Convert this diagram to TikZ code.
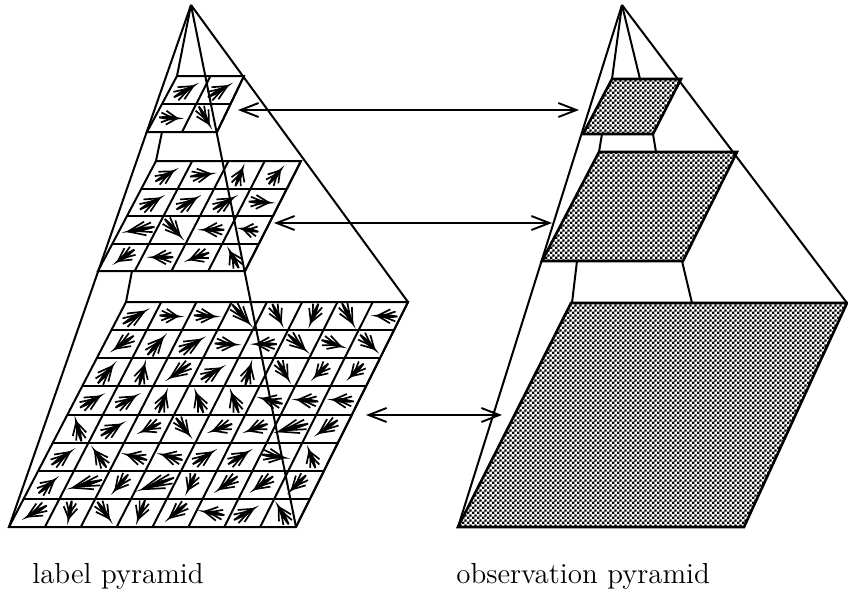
\documentclass[tikz,border=0pt]{standalone}
\usepackage{tikz}
\usetikzlibrary{arrows.meta,calc,patterns}

% Rasterung der Beobachtungsebenen
\pgfdeclarepatternformonly{stipple}{\pgfqpoint{0pt}{0pt}}{\pgfqpoint{2.6pt}{2.6pt}}{\pgfqpoint{2.6pt}{2.6pt}}{%
  \pgfpathrectangle{\pgfqpoint{0pt}{0pt}}{\pgfqpoint{1.4pt}{1.4pt}}%
  \pgfpathrectangle{\pgfqpoint{1.3pt}{1.3pt}}{\pgfqpoint{1.4pt}{1.4pt}}%
  \pgfusepath{fill}}

% Gitter einer Ebene: Ecken a,b,c,d und Zellenzahl
\newcommand{\levelgrid}[5]{%
  \draw[gridline] (#1) -- (#2) -- (#3) -- (#4) -- cycle;
  \foreach \i in {1,...,#5} {
    \draw[gridline] ($(#1)!\i/#5!(#4)$) -- ($(#2)!\i/#5!(#3)$);
    \draw[gridline] ($(#1)!\i/#5!(#2)$) -- ($(#4)!\i/#5!(#3)$);
  }
}

% Pfeil mit Widerhaken: Mitte, Winkel, Laenge
\newcommand{\labelarrow}[3]{%
  \begin{scope}[shift={#1},rotate=#2,x=0.56pt,y=-0.56pt]
    \fill (#3/2,0) -- (#3/2-0.55*#3,2.1) -- (-#3/2,0.8) -- (-#3/2,-0.8) -- (#3/2-0.55*#3,-2.1) -- cycle;
    \draw[barb] (#3/2-6,0) -- (#3/2-0.72*#3,6.2);
    \draw[barb] (#3/2-6,0) -- (#3/2-0.72*#3,-6.2);
    \draw[barb] (#3/2-10,0) -- (#3/2-0.92*#3,4.4);
    \draw[barb] (#3/2-10,0) -- (#3/2-0.92*#3,-4.4);
  \end{scope}
}

\begin{document}
\begin{tikzpicture}[x=0.5pt,y=-0.5pt,
    edge/.style={black, line width=1pt},
    gridline/.style={black, line width=1pt},
    barb/.style={black, line width=0.85pt},
    shaded/.style={pattern=stipple, draw=black, line width=1.3pt},
    link/.style={black, line width=0.95pt, {Straight Barb[length=9pt,width=7pt]}-{Straight Barb[length=9pt,width=7pt]}},
    caption/.style={font=\fontsize{14.5}{16}\selectfont, anchor=base west, inner sep=0pt}
  ]
  \useasboundingbox (0,0) rectangle (848,591);

  % Linke Pyramide
  \coordinate (apexL) at (191,5);
  \coordinate (a1) at (177,76);  \coordinate (a2) at (244,76);
  \coordinate (a3) at (217,132); \coordinate (a4) at (147,132);
  \coordinate (b1) at (156,161); \coordinate (b2) at (301,161);
  \coordinate (b3) at (245,271); \coordinate (b4) at (98,271);
  \coordinate (c1) at (126,302); \coordinate (c2) at (408,302);
  \coordinate (c3) at (296,527); \coordinate (c4) at (9,527);

  % Gitter
  \levelgrid{a1}{a2}{a3}{a4}{2}
  \levelgrid{b1}{b2}{b3}{b4}{4}
  \levelgrid{c1}{c2}{c3}{c4}{8}

  % Kanten
  \draw[edge] (apexL) -- (c4);
  \draw[edge] (apexL) -- (c2);
  \draw[edge] (apexL) -- (c3);
  \draw[edge] (apexL) -- (a1);
  \draw[edge] (162,132) -- (156,161);
  \draw[edge] (132,271) -- (126,302);

  % Pfeile der Ebene 1
  \foreach \a/\l [count=\k from 0] in {
      30/28,-3/22,-3/24,-48/28,-65/24,-112/24,-62/26,178/24,
      215/26,48/26,30/28,-3/24,180/24,-42/26,-18/24,-45/24,
      50/26,75/24,215/28,30/26,75/24,-60/24,225/22,225/22,
      30/26,30/26,70/24,110/24,110/24,165/24,175/24,175/24,
      105/24,30/26,205/24,-52/24,200/24,200/24,195/33,215/26,
      35/26,125/24,165/24,165/24,32/26,32/26,-8/26,110/22,
      40/24,195/33,230/24,200/36,245/22,215/26,215/26,225/24,
      210/26,260/22,-55/24,250/24,220/26,170/24,30/26,120/24} {
    \pgfmathtruncatemacro{\row}{int(\k/8)}
    \pgfmathtruncatemacro{\col}{\k-8*\row}
    \pgfmathsetmacro{\cx}{126+(\col+0.5)*35.4-(\row+0.5)*14.6}
    \pgfmathsetmacro{\cy}{302+(\row+0.5)*28.1}
    \labelarrow{(\cx,\cy)}{\a}{\l}
  }

  % Pfeile der Ebene 2
  \foreach \a/\l [count=\k from 0] in {
      30/24,8/24,68/22,50/22,
      30/26,30/26,30/26,-3/24,
      190/30,-48/26,180/24,170/20,
      215/24,180/24,200/24,118/22} {
    \pgfmathtruncatemacro{\row}{int(\k/4)}
    \pgfmathtruncatemacro{\col}{\k-4*\row}
    \pgfmathsetmacro{\cx}{156+(\col+0.5)*36.5-(\row+0.5)*14.5}
    \pgfmathsetmacro{\cy}{161+(\row+0.5)*27.5}
    \labelarrow{(\cx,\cy)}{\a}{\l}
  }

  % Pfeile der Ebene 3
  \foreach \a/\l [count=\k from 0] in {30/26,30/26,-3/22,-60/24} {
    \pgfmathtruncatemacro{\row}{int(\k/2)}
    \pgfmathtruncatemacro{\col}{\k-2*\row}
    \pgfmathsetmacro{\cx}{177+(\col+0.5)*34-(\row+0.5)*15}
    \pgfmathsetmacro{\cy}{76+(\row+0.5)*28}
    \labelarrow{(\cx,\cy)}{\a}{\l}
  }

  % Rechte Pyramide
  \coordinate (apexR) at (622,5);
  \coordinate (d1) at (612,79);  \coordinate (d2) at (681,79);
  \coordinate (d3) at (653,134); \coordinate (d4) at (583,134);
  \coordinate (e1) at (599,152); \coordinate (e2) at (737,152);
  \coordinate (e3) at (683,261); \coordinate (e4) at (542,261);
  \coordinate (f1) at (571,303); \coordinate (f2) at (847,303);
  \coordinate (f3) at (744,527); \coordinate (f4) at (458,527);

  \draw[shaded] (d1) -- (d2) -- (d3) -- (d4) -- cycle;
  \draw[shaded] (e1) -- (e2) -- (e3) -- (e4) -- cycle;
  \draw[shaded] (f1) -- (f2) -- (f3) -- (f4) -- cycle;

  % Kanten
  \draw[edge] (apexR) -- (f4);
  \draw[edge] (apexR) -- (f2);
  \draw[edge] (apexR) -- (d1);
  \draw[edge] (apexR) -- (640,79);
  \draw[edge] (602,134) -- (599,152);
  \draw[edge] (653,134) -- (656,152);
  \draw[edge] (577,261) -- (572,303);
  \draw[edge] (682,261) -- (692,303);

  % Verbindungen
  \coordinate (top1) at (238,110);  \coordinate (top2) at (579,110);
  \coordinate (mid1) at (274,223);  \coordinate (mid2) at (552,223);
  \coordinate (low1) at (366,415);  \coordinate (low2) at (502,415);
  \draw[link] (top1) -- (top2);
  \draw[link] (mid1) -- (mid2);
  \draw[link] (low1) -- (low2);

  % Beschriftung
  \node[caption] (labelpyr) at (32,583) {label pyramid};
  \node[caption] (obspyr) at (456,583) {observation pyramid};
\end{tikzpicture}
\end{document}
